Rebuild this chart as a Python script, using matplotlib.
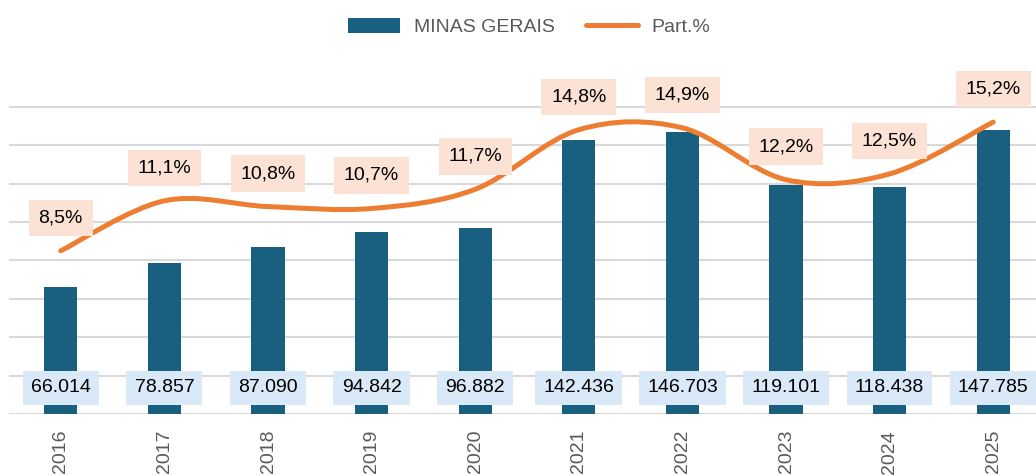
import numpy as np
import matplotlib
matplotlib.use('Agg')
import matplotlib.pyplot as plt
from matplotlib.path import Path
from matplotlib.patches import PathPatch, Patch
from matplotlib.lines import Line2D

plt.rcParams['font.family'] = ['Liberation Sans', 'DejaVu Sans']

years = ['2016', '2017', '2018', '2019', '2020', '2021', '2022', '2023', '2024', '2025']
minas_gerais = [66014, 78857, 87090, 94842, 96882, 142436, 146703, 119101, 118438, 147785]
part_pct = [8.5, 11.1, 10.8, 10.7, 11.7, 14.8, 14.9, 12.2, 12.5, 15.2]

bar_color = '#185F80'
line_color = '#ED7D31'
grid_color = '#D9D9D9'
text_gray = '#595959'

W, H = 1036, 476
fig = plt.figure(figsize=(W / 100, H / 100), dpi=100)
# plot area: left edge at 9px, baseline at 414px, runs past the right edge
ax = fig.add_axes([9 / W, 62 / H, 1036 / W, 354 / H])

x = np.arange(len(years))
ymax = 160000 * 354 / 307.3

ax.bar(x, minas_gerais, width=0.32, color=bar_color, zorder=2)
ax.set_xlim(-0.5, len(years) - 0.5)
ax.set_ylim(0, ymax)
ax.set_yticks(range(0, 160001, 20000))
ax.yaxis.grid(True, color=grid_color, lw=1.5)
ax.set_axisbelow(True)
ax.set_xticks(x)
ax.set_xticklabels(years, rotation=90, fontsize=14, color=text_gray)
for s in ax.spines.values():
    s.set_visible(False)

for i, v in enumerate(minas_gerais):
    lbl = f'{v:,}'.replace(',', '.')
    ax.annotate(lbl, xy=(i, 0), xytext=(0, 26), textcoords='offset pixels',
                ha='center', va='center', fontsize=14, color='black', zorder=5,
                bbox=dict(boxstyle='square,pad=0.42', fc='#DAE9F7', ec='none'))

# percentage on a twin axis with the same 0 baseline (16% at the top gridline)
ax2 = ax.twinx()
ax2.set_ylim(0, ymax / 10000)
ax2.axis('off')

# twinx turns the left ticks back on, so hide them here
ax.tick_params(left=False, labelleft=False, bottom=False)
ax.tick_params(axis='x', pad=8)

# smoothed line like Excel (Catmull-Rom as cubic Bezier)
pts = np.column_stack([x, part_pct]).astype(float)
n = len(pts)
verts = [pts[0]]
codes = [Path.MOVETO]
for i in range(n - 1):
    p0 = pts[i - 1] if i > 0 else pts[i]
    p1 = pts[i]
    p2 = pts[i + 1]
    p3 = pts[i + 2] if i + 2 < n else pts[i + 1]
    c1 = p1 + (p2 - p0) / 6
    c2 = p2 - (p3 - p1) / 6
    verts += [c1, c2, p2]
    codes += [Path.CURVE4] * 3
ax2.add_patch(PathPatch(Path(verts, codes), fc='none', ec=line_color, lw=3.6,
                        capstyle='round', joinstyle='round', zorder=3, clip_on=False))

for i, p in enumerate(part_pct):
    lbl = f'{p:.1f}'.replace('.', ',') + '%'
    ax2.annotate(lbl, xy=(i, p), xytext=(0, 33), textcoords='offset pixels',
                 ha='center', va='center', fontsize=14, color='black', zorder=6,
                 annotation_clip=False,
                 bbox=dict(boxstyle='square,pad=0.5', fc='#FBE2D5', ec='none'))

handles = [Patch(fc=bar_color, ec='none'),
           Line2D([0], [0], color=line_color, lw=3.6, solid_capstyle='round')]
fig.legend(handles, ['MINAS GERAIS', 'Part.%'], loc='center',
           bbox_to_anchor=(529 / W, 1 - 27 / H), ncol=2, frameon=False,
           fontsize=14, labelcolor=text_gray, handlelength=2.7, handleheight=0.8,
           handletextpad=0.7, columnspacing=1.6)

fig.savefig('out.png', dpi=100)
